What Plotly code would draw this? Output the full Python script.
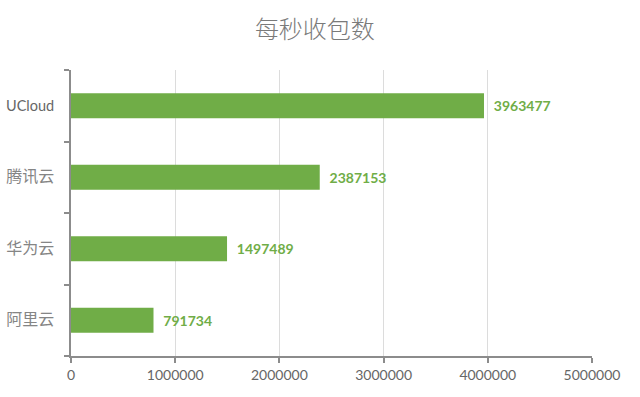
import plotly.graph_objects as go

categories = ["阿里云", "华为云", "腾讯云", "UCloud"]
values = [791734, 1497489, 2387153, 3963477]
x_ticks = [0, 1000000, 2000000, 3000000, 4000000, 5000000]

bar_color = "#70AD47"
font_family = "Lato, 'Noto Sans CJK SC', sans-serif"

def cat_label(c):
    if c.isascii():
        return f"<span style='font-size:14.5px'>{c}</span>"
    return f"<span style='font-size:16px;color:#858585'>{c}</span>"

fig = go.Figure(
    go.Bar(
        y=categories,
        x=values,
        orientation="h",
        marker=dict(color=bar_color, line=dict(width=0)),
        width=0.35,
        text=[f"\u00a0\u00a0{v}" for v in values],
        textposition="outside",
        textfont=dict(family=font_family, size=14, color=bar_color, weight="bold"),
        cliponaxis=False,
    )
)

fig.update_layout(
    width=640,
    height=397,
    margin=dict(l=71, r=48, t=70, b=41),
    paper_bgcolor="white",
    plot_bgcolor="white",
    showlegend=False,
    title=dict(
        text="每秒收包数",
        x=0.492,
        xanchor="center",
        y=0.925,
        yanchor="middle",
        font=dict(family="'Noto Sans CJK SC', sans-serif", size=24, color="#7a7a7a", weight=300),
    ),
    font=dict(family=font_family, size=14, color="#666666"),
)

fig.update_xaxes(
    range=[0, 5000000],
    tickvals=x_ticks,
    ticktext=[str(t) for t in x_ticks],
    showgrid=True,
    gridcolor="#dcdcdc",
    gridwidth=1,
    showline=True,
    linecolor="#8c8c8c",
    linewidth=2,
    ticks="outside",
    ticklen=5,
    tickcolor="#8c8c8c",
    tickwidth=1.5,
    zeroline=False,
    automargin=False,
    tickfont=dict(family=font_family, size=14, color="#666666"),
)

fig.update_yaxes(
    categoryorder="array",
    categoryarray=categories,
    tickvals=categories,
    ticktext=[cat_label(c) for c in categories],
    showline=True,
    linecolor="#8c8c8c",
    linewidth=2,
    ticks="outside",
    tickson="boundaries",
    ticklen=5,
    tickcolor="#8c8c8c",
    tickwidth=1.5,
    showgrid=False,
    automargin=False,
    tickfont=dict(family=font_family, size=14, color="#666666"),
    ticklabelstandoff=12,
)

fig.write_html(
    "out.html",
    config={"displayModeBar": False},
    post_script="document.body.style.margin='0';",
)
